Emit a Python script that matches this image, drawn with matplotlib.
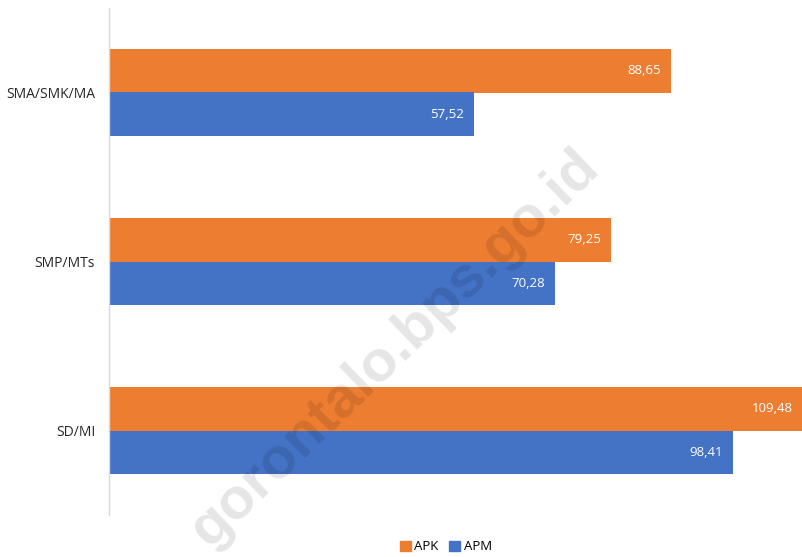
import matplotlib
matplotlib.use("Agg")
import matplotlib.pyplot as plt
import numpy as np
from matplotlib.patches import Patch

categories = ["SD/MI", "SMP/MTs", "SMA/SMK/MA"]
apk = [109.48, 79.25, 88.65]
apm = [98.41, 70.28, 57.52]
series_names = ["APK", "APM"]
colors = ["#ED7D31", "#4472C4"]

plt.rcParams['font.family'] = ['Open Sans', 'DejaVu Sans']

W, H = 803, 557
fig = plt.figure(figsize=(W/100, H/100), dpi=100)
ax = fig.add_axes([109/W, (H-515)/H, 1 - 109/W, (515-8)/H])

y = np.arange(len(categories))
h = 0.26
b1 = ax.barh(y + h/2, apk, height=h, color=colors[0], zorder=2)
b2 = ax.barh(y - h/2, apm, height=h, color=colors[1], zorder=2)

def fmt(v):
    return f"{v:.2f}".replace(".", ",")

for bars, vals in ((b1, apk), (b2, apm)):
    for bar, v in zip(bars, vals):
        ax.annotate(fmt(v), (v, bar.get_y() + bar.get_height()/2),
                    xytext=(-7, 0), textcoords="offset points",
                    ha="right", va="center", color="white", fontsize=9.5, zorder=3)

ax.set_xlim(0, 109.48)
ax.set_ylim(-0.5, 2.5)
ax.set_yticks(y)
ax.set_yticklabels(categories, fontsize=10, color="#262626")
ax.tick_params(axis="y", length=0, pad=10)
ax.set_xticks([])
for s in ["top", "right", "bottom"]:
    ax.spines[s].set_visible(False)
ax.spines["left"].set_color("#D9D9D9")
ax.spines["left"].set_linewidth(1)

# watermark (semi-transparent, on top)
fig.text(395/W, 1 - 348/H, "gorontalo.bps.go.id", rotation=44, fontsize=42,
         fontweight="bold", family=["Liberation Sans", "DejaVu Sans"],
         color=(0, 0, 0, 0.1), ha="center", va="center", zorder=10,
         rotation_mode="anchor")

handles = [Patch(color=c, label=n) for c, n in zip(colors, series_names)]
fig.legend(handles=handles, loc="center", bbox_to_anchor=(446/W, 1 - 547/H),
           ncol=2, frameon=False, fontsize=9.5, handlelength=0.8, handleheight=0.8,
           handletextpad=0.3, columnspacing=0.8)

fig.savefig("out.png", dpi=100)
